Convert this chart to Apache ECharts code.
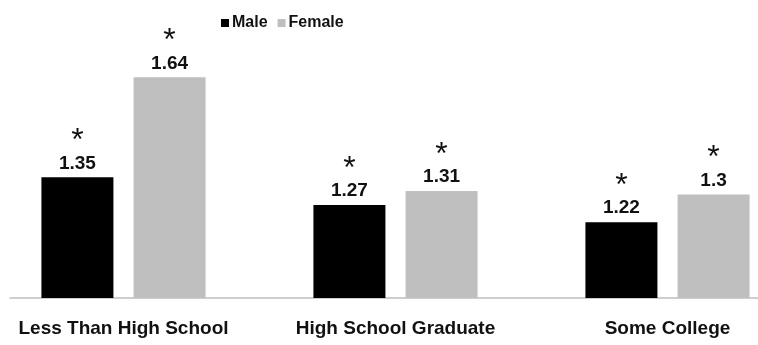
<!DOCTYPE html>
<html>
<head>
<meta charset="utf-8">
<script src="https://cdn.jsdelivr.net/npm/echarts@6/dist/echarts.min.js"></script>
<style>
  html, body { margin: 0; padding: 0; background: #fff; }
  #chart { width: 758px; height: 345px; }
</style>
</head>
<body>
<div id="chart"></div>
<script>
// education groups
const categories = ['Less Than High School', 'High School Graduate', 'Some College']
const maleValues = [1.35, 1.27, 1.22]
const femaleValues = [1.64, 1.31, 1.3]

const font = '"Liberation Sans", Arial, sans-serif'

// value with the asterisk above it
function starLabel(p) {
  return '{a|*}\n{v|' + p.value + '}'
}
const labelRich = {
  a: { fontSize: 32, fontFamily: font, color: '#111', lineHeight: 24 },
  v: { fontSize: 19, fontFamily: font, fontWeight: 'bold', color: '#111', lineHeight: 20 }
}

let chart = echarts.init(document.getElementById('chart'))
chart.setOption({
  animation: false,
  color: ['#000000', '#bfbfbf'],
  legend: {
    data: ['Male', 'Female'],
    left: 216,
    top: 10,
    itemWidth: 8,
    itemHeight: 8,
    itemGap: 10,
    icon: 'rect',
    textStyle: { fontFamily: font, fontWeight: 'bold', fontSize: 16, color: '#111', padding: [0, 0, 0, -2] }
  },
  grid: [
    { left: -12.5, width: 816, top: 39.4, bottom: 47, outerBoundsMode: 'none' },
    // only for the baseline
    { left: 10, right: 0, top: 39.4, bottom: 47, outerBoundsMode: 'none' }
  ],
  xAxis: [
    {
      type: 'category',
      gridIndex: 0,
      data: categories,
      axisLine: { show: false },
      axisTick: { show: false },
      axisLabel: { interval: 0, fontFamily: font, fontWeight: 'bold', fontSize: 19, color: '#111', margin: 21 }
    },
    {
      type: 'category',
      gridIndex: 1,
      data: [],
      axisLine: { lineStyle: { color: '#bfbfbf', width: 1.5 } },
      axisTick: { show: false },
      axisLabel: { show: false }
    }
  ],
  yAxis: [
    { type: 'value', gridIndex: 0, min: 1, max: 1.75, show: false },
    { type: 'value', gridIndex: 1, min: 0, max: 1, show: false }
  ],
  series: [
    {
      name: 'Male',
      type: 'bar',
      data: maleValues,
      barWidth: 72,
      barGap: '28%',
      label: { show: true, position: 'top', distance: 4, formatter: starLabel, rich: labelRich }
    },
    {
      name: 'Female',
      type: 'bar',
      data: femaleValues,
      barWidth: 72,
      label: { show: true, position: 'top', distance: 4, formatter: starLabel, rich: labelRich }
    }
  ]
})
</script>
</body>
</html>
